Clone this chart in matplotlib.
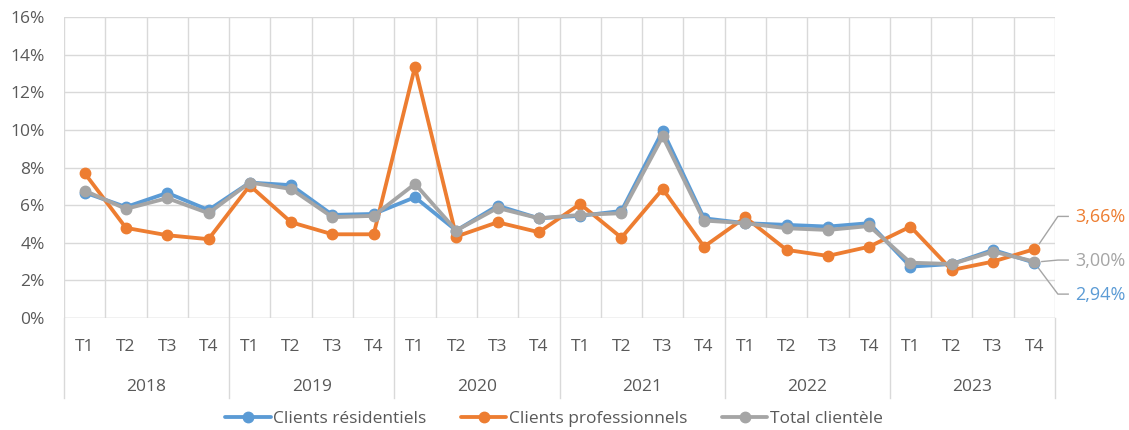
import numpy as np
import matplotlib
matplotlib.use("Agg")
import matplotlib.pyplot as plt
from matplotlib.ticker import FuncFormatter, MultipleLocator

plt.rcParams['font.family'] = ['Open Sans', 'DejaVu Sans']

years = ['2018', '2019', '2020', '2021', '2022', '2023']
quarters = ['T1', 'T2', 'T3', 'T4']

residentiels = [6.67, 5.90, 6.65, 5.74,
                7.20, 7.06, 5.48, 5.53,
                6.42, 4.65, 5.97, 5.30,
                5.43, 5.69, 9.95, 5.30,
                5.04, 4.95, 4.86, 5.04,
                2.73, 2.87, 3.62, 2.94]
professionnels = [7.70, 4.79, 4.40, 4.19,
                  7.04, 5.09, 4.45, 4.45,
                  13.35, 4.33, 5.09, 4.56,
                  6.06, 4.27, 6.86, 3.79,
                  5.35, 3.62, 3.30, 3.79,
                  4.86, 2.55, 3.00, 3.66]
total = [6.77, 5.80, 6.37, 5.57,
         7.20, 6.86, 5.36, 5.43,
         7.13, 4.65, 5.85, 5.30,
         5.48, 5.57, 9.65, 5.18,
         5.04, 4.77, 4.68, 4.89,
         2.94, 2.87, 3.53, 3.00]

c_blue = '#5B9BD5'
c_orange = '#ED7D31'
c_gray = '#A5A5A5'
c_text = '#595959'
c_grid = '#D9D9D9'
fs = 12.5

fig = plt.figure(figsize=(11.29, 4.30), dpi=100)
ax = fig.add_axes([64 / 1129, 1 - 318 / 430, (1055 - 64) / 1129, 301 / 430])

x = np.arange(len(total))
series = [(residentiels, c_blue, 'Clients résidentiels'),
          (professionnels, c_orange, 'Clients professionnels'),
          (total, c_gray, 'Total clientèle')]
for vals, col, lab in series:
    ax.plot(x, vals, color=col, lw=2.75, marker='o', ms=7.5, label=lab,
            solid_capstyle='round', zorder=3)

ax.set_xlim(-0.5, len(total) - 0.5)
ax.set_ylim(0, 16)
ax.yaxis.set_major_locator(MultipleLocator(2))
ax.yaxis.set_major_formatter(FuncFormatter(lambda v, p: f'{v:.0f}%'))
ax.grid(axis='y', color=c_grid, lw=1)
ax.set_xticks(np.arange(-0.5, len(total), 1.0), minor=True)
ax.grid(axis='x', which='minor', color=c_grid, lw=1)
ax.set_xticks(x)
ax.set_xticklabels(quarters * len(years))
ax.tick_params(axis='x', which='both', length=0, pad=15, labelsize=fs, colors=c_text)
ax.tick_params(axis='y', length=0, pad=14, labelsize=fs, colors=c_text)
for s in ax.spines.values():
    s.set_visible(False)
ax.axhline(0, color=c_grid, lw=1, zorder=1)
ax.set_axisbelow(True)

# year group labels and separators
for i, yr in enumerate(years):
    ax.text(i * 4 + 1.5, -0.23, yr, transform=ax.get_xaxis_transform(),
            ha='center', va='center', fontsize=fs, color=c_text)
for k in range(len(years) + 1):
    ax.plot([k * 4 - 0.5] * 2, [0, -0.266], transform=ax.get_xaxis_transform(),
            color=c_grid, lw=1, clip_on=False)

# end labels with leader lines
ends = [(professionnels[-1], c_orange, 5.37, 5.40, (23.12, 3.95)),
        (total[-1], c_gray, 3.03, 3.08, (23.18, 3.0)),
        (residentiels[-1], c_blue, 1.22, 1.27, (23.1, 2.65))]
for val, col, ty, ly, start in ends:
    ax.plot([start[0], 23.57, 23.82], [start[1], ly, ly], color=c_gray, lw=1,
            clip_on=False, zorder=2)
    ax.text(23.99, ty, f'{val:.2f}%'.replace('.', ','), color=col, fontsize=13,
            ha='left', va='center', clip_on=False)

fig.legend(loc='center', bbox_to_anchor=(554 / 1129, 0.026), ncol=3, frameon=False,
           fontsize=fs, handlelength=2.6, columnspacing=2.0, handletextpad=0.15,
           labelcolor=c_text)

fig.savefig('out.png', dpi=100)
